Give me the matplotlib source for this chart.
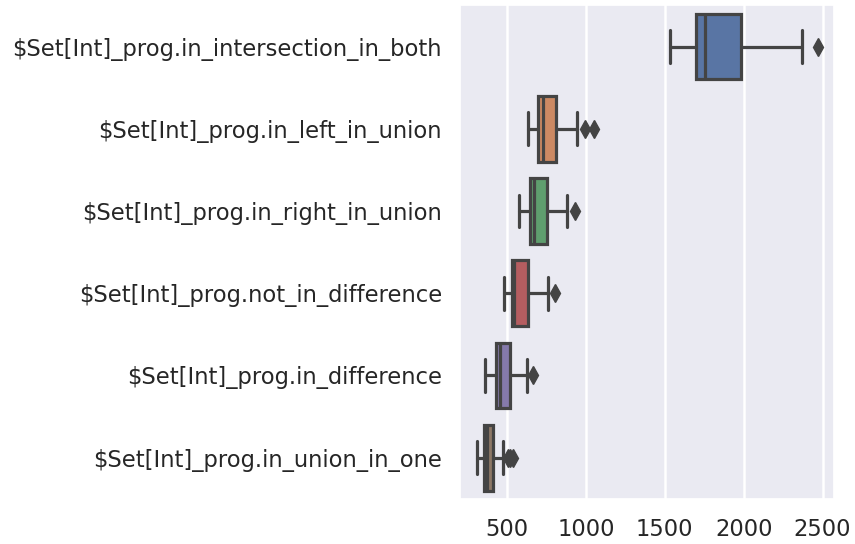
import numpy as np
import matplotlib
matplotlib.use("Agg")
import matplotlib.pyplot as plt
import seaborn as sns

names = ["$Set[Int]_prog.in_intersection_in_both",
         "$Set[Int]_prog.in_left_in_union",
         "$Set[Int]_prog.in_right_in_union",
         "$Set[Int]_prog.not_in_difference",
         "$Set[Int]_prog.in_difference",
         "$Set[Int]_prog.in_union_in_one"]
whislo = [1536, 631, 578, 481, 361, 308]
q1 = [1700, 698, 646, 530, 430, 356]
med = [1757, 730, 671, 546, 456, 375]
q3 = [1985, 810, 755, 635, 519, 413]
whishi = [2369, 941, 882, 761, 625, 477]
fliers = [[2468], [994, 1051], [930], [804], [667], [505, 522, 540]]

sns.set_theme(style="darkgrid")
plt.rcParams['font.family'] = ['DejaVu Sans']

fig, ax = plt.subplots(figsize=(8.55, 5.44), dpi=100)
fig.subplots_adjust(left=0.538, right=0.975, top=0.99, bottom=0.083)

stats = []
for i in range(len(names)):
    stats.append(dict(label=names[i].replace("$", r"\$"), whislo=whislo[i], q1=q1[i], med=med[i],
                      q3=q3[i], whishi=whishi[i], fliers=fliers[i]))

pos = np.arange(len(names))
lc = "#444444"
lw = 2.3
bp = ax.bxp(stats, positions=pos, vert=False, widths=0.8, patch_artist=True,
            boxprops=dict(edgecolor=lc, linewidth=lw),
            medianprops=dict(color=lc, linewidth=lw),
            whiskerprops=dict(color=lc, linewidth=lw),
            capprops=dict(color=lc, linewidth=lw),
            flierprops=dict(marker="d", markerfacecolor=lc, markeredgecolor=lc, markersize=9))
pal = sns.color_palette("deep")
for i, b in enumerate(bp["boxes"]):
    b.set_facecolor(sns.desaturate(pal[i], 0.75))

ax.set_ylim(len(names) - 0.5, -0.5)
ax.set_xlim(202, 2570)
ax.set_xticks([500, 1000, 1500, 2000, 2500])
ax.tick_params(axis="both", labelsize=16.25, colors="#262626")
ax.tick_params(axis="y", pad=7)
ax.tick_params(axis="x", pad=8)
ax.grid(axis="y", visible=False)
ax.grid(axis="x", color="white", linewidth=1.8)

fig.savefig("out.png")
